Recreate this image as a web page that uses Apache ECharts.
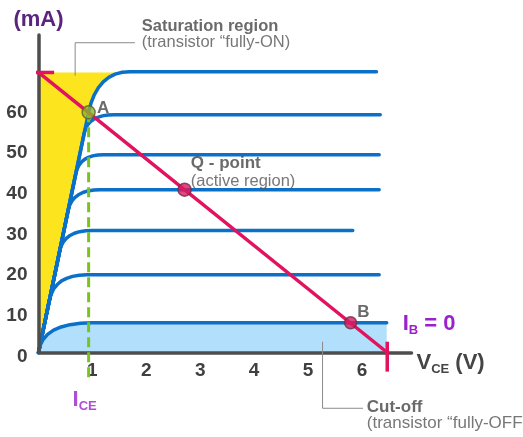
<!DOCTYPE html>
<html><head><meta charset="utf-8">
<script src="https://cdn.jsdelivr.net/npm/echarts@6/dist/echarts.min.js"></script>
<style>html,body{margin:0;padding:0;background:#fff}#c{width:523px;height:437px}</style>
</head><body><div id="c"></div>
<script>
// ===== data (V_CE in volts, I_C in mA) =====
const xTickLabels = [1, 2, 3, 4, 5, 6];
const yTickLabels = [0, 10, 20, 30, 40, 50, 60];

const curveIb0 = [[0,0],[0.029,1.7],[0.085,3.2],[0.169,4.45],[0.28,5.5],[0.419,6.27],[0.585,6.84],[0.779,7.19],[1.0,7.3],[6.46,7.3]];
const curve20  = [[0,0],[0.1,6.35],[0.205,13],[0.237,14.4],[0.285,15.7],[0.348,16.7],[0.427,17.6],[0.522,18.2],[0.632,18.7],[0.758,19.0],[0.9,19.1],[6.32,19.1]];
const curve30  = [[0,0],[0.2,12.7],[0.394,25],[0.42,26.17],[0.461,27.19],[0.516,28.05],[0.585,28.75],[0.667,29.3],[0.764,29.69],[0.875,29.92],[1.0,30],[5.83,30]];
const curve40  = [[0,0],[0.2,12.7],[0.4,25.4],[0.551,35],[0.578,36.17],[0.618,37.19],[0.672,38.05],[0.74,38.75],[0.822,39.3],[0.918,39.69],[1.027,39.92],[1.15,40],[6.32,40]];
const curve48  = [[0,0],[0.2,12.7],[0.4,25.4],[0.6,38.1],[0.693,44],[0.717,45.08],[0.752,46.01],[0.798,46.81],[0.856,47.45],[0.925,47.95],[1.005,48.31],[1.097,48.53],[1.2,48.6],[6.32,48.6]];
const curve58  = [[0,0],[0.2,12.7],[0.4,25.4],[0.6,38.1],[0.85,54],[0.874,55.03],[0.911,55.93],[0.96,56.68],[1.023,57.3],[1.098,57.78],[1.186,58.13],[1.287,58.33],[1.4,58.4],[6.34,58.4]];
const curveTop = [[0,0],[0.2,12.7],[0.4,25.4],[0.6,38.1],[0.85,54],[0.93,59],[0.976,61.34],[1.037,63.38],[1.112,65.09],[1.201,66.5],[1.304,67.6],[1.422,68.38],[1.554,68.84],[1.7,69],[6.27,69]];

const saturationRegion = [[0,68.8],[0,0],[0.93,59],[0.976,61.34],[1.037,63.38],[1.112,65.09],[1.201,66.5],[1.304,67.6],[1.422,68.38],[1.5,68.8]];

const loadLine = [[0,68.8],[6.47,0]];
const loadTickTop = [[-0.27,68.8],[0.29,68.8]];
const loadTickBottom = [[6.47,2.65],[6.47,-4.7]];
const vceSatLine = [[0.93,59],[0.93,-7]];

const pointA = [0.93, 59];
const pointQ = [2.71, 40];
const pointB = [5.79, 7.3];

// annotation leaders / anchors (data coordinates)
const satLeader = [[0.68,68],[0.68,76.1],[1.79,76.1]];
const satAnchor = [1.915, 78.1];
const cutLeader = [[5.27,2.65],[5.27,-13.7],[6.02,-13.7]];
const cutAnchor = [6.09, -15.5];

// ===== styles =====
const FONT = "'Liberation Sans', Arial, Helvetica, sans-serif";
const BLUE = '#0a70c8', RED = '#e2125e', PURPLE = '#9a21cc', GRAY = '#454545';
const subRich = (color) => ({
  i: { fontSize: 22, fontWeight: 'bold', color, fontFamily: FONT, verticalAlign: 'top', lineHeight: 24 },
  s: { fontSize: 13, fontWeight: 'bold', color, fontFamily: FONT, verticalAlign: 'bottom', lineHeight: 14, padding: [14, 0, 0, 0] }
});

function curveSeries(name, data, extra) {
  return Object.assign({
    name, type: 'line', data, symbol: 'none', smooth: false,
    lineStyle: { color: BLUE, width: 3.5, join: 'round', cap: 'round' }, z: 3, silent: true
  }, extra || {});
}

const chart = echarts.init(document.getElementById('c'), null, { renderer: 'canvas' });
chart.setOption({
  animation: false,
  textStyle: { fontFamily: FONT },
  grid: { left: 38.5, top: 35, width: 373, height: 317.5 },
  xAxis: {
    type: 'value', min: 0, max: 6.92, interval: 1, z: 4,
    axisLine: { lineStyle: { color: '#4d4d4d', width: 3.5 } },
    axisTick: { show: false }, splitLine: { show: false },
    axisLabel: { margin: 9, fontSize: 19, fontWeight: 'bold', color: '#404040', fontFamily: FONT,
      formatter: v => xTickLabels.includes(v) ? String(v) : '' },
    name: '{i|V}{s|CE}{i| (V)}', nameLocation: 'end', nameGap: 5,
    nameTextStyle: { padding: [22, 0, 0, 0], rich: subRich(GRAY) }
  },
  yAxis: {
    type: 'value', min: 0, max: 78, interval: 10, z: 4,
    axisLine: { lineStyle: { color: '#4d4d4d', width: 3.5 } },
    axisTick: { show: false }, splitLine: { show: false },
    axisLabel: { margin: 11, fontFamily: FONT,
      formatter: v => yTickLabels.includes(v) ? '{t|' + v + '}' : '',
      rich: { t: { fontSize: 19, fontWeight: 'bold', color: '#404040', fontFamily: FONT, lineHeight: 20, padding: [8, 0, 0, 0] } } },
    name: '(mA)', nameLocation: 'end', nameGap: 4,
    nameTextStyle: { fontSize: 22, fontWeight: 'bold', color: '#5b257f', fontFamily: FONT }
  },
  series: [
    {
      name: 'Saturation region', type: 'custom', z: 1, silent: true, clip: false,
      data: [[0, 0]],
      renderItem: (params, api) => ({
        type: 'polygon',
        shape: { points: saturationRegion.map(p => api.coord(p)) },
        style: { fill: '#fce51e' }
      })
    },
    curveSeries('IB = 0', curveIb0, {
      areaStyle: { color: '#b2dffb', opacity: 1, origin: 'start' },
      endLabel: { show: true, distance: 16, offset: [0, 2], formatter: '{i|I}{s|B}{i| = 0}', rich: subRich(PURPLE) }
    }),
    curveSeries('IB1', curve20),
    curveSeries('IB2', curve30),
    curveSeries('IB3', curve40),
    curveSeries('IB4', curve48),
    curveSeries('IB5', curve58),
    curveSeries('IB6', curveTop),
    {
      name: 'VCE(sat)', type: 'line', z: 5, clip: false, symbol: 'none', silent: true,
      lineStyle: { color: '#7ac31f', width: 3, type: [10, 5] },
      data: vceSatLine
    },
    {
      name: 'Load line', type: 'line', z: 6, clip: false, symbol: 'none', silent: true,
      lineStyle: { color: RED, width: 3.5 }, data: loadLine
    },
    {
      name: 'Load tick top', type: 'line', z: 6, clip: false, symbol: 'none', silent: true,
      lineStyle: { color: RED, width: 3.5 }, data: loadTickTop
    },
    {
      name: 'Load tick bottom', type: 'line', z: 6, clip: false, symbol: 'none', silent: true,
      lineStyle: { color: RED, width: 3.5 }, data: loadTickBottom
    },
    {
      name: 'Saturation leader', type: 'line', z: 2, clip: false, symbol: 'none', silent: true,
      lineStyle: { color: '#8a8a8a', width: 1 }, data: satLeader
    },
    {
      name: 'Cut-off leader', type: 'line', z: 4, clip: false, symbol: 'none', silent: true,
      lineStyle: { color: '#8a8a8a', width: 1 }, data: cutLeader
    },
    {
      name: 'Notes', type: 'scatter', z: 7, clip: false, symbolSize: 0, silent: true,
      data: [
        { value: satAnchor, label: { show: true, position: 'right', distance: 0,
          formatter: '{b|Saturation region}\n{n|(transistor “fully-ON)}',
          rich: {
            b: { fontSize: 16.5, fontWeight: 'bold', color: GRAY, fontFamily: FONT, lineHeight: 16 },
            n: { fontSize: 16.5, color: '#555', fontFamily: FONT, lineHeight: 16 }
          } } },
        { value: cutAnchor, label: { show: true, position: 'right', distance: 0,
          formatter: '{b|Cut-off}\n{n|(transistor “fully-OFF)}',
          rich: {
            b: { fontSize: 17, fontWeight: 'bold', color: GRAY, fontFamily: FONT, lineHeight: 16 },
            n: { fontSize: 17, color: '#555', fontFamily: FONT, lineHeight: 16 }
          } } },
        { value: vceSatLine[vceSatLine.length - 1], label: { show: true, position: 'bottom', distance: 8,
          offset: [-4, 0], formatter: '{i|I}{s|CE}', rich: subRich(PURPLE) } }
      ]
    },
    {
      name: 'Operating points', type: 'scatter', z: 8, clip: false, silent: true,
      data: [
        { value: pointA, symbolSize: 13, itemStyle: { color: '#8fb328', borderColor: '#55603a', borderWidth: 1.5 },
          label: { show: true, position: 'right', distance: 1, offset: [0, -4], formatter: 'A',
            fontSize: 17, fontWeight: 'bold', color: GRAY, fontFamily: FONT } },
        { value: pointQ, symbolSize: 13, itemStyle: { color: '#d81b60', borderColor: '#6a3048', borderWidth: 1.5 },
          label: { show: true, position: 'right', distance: 0, offset: [-1, -17.5],
            formatter: '{b|Q - point}\n{n|(active region)}',
            rich: {
              b: { fontSize: 17, fontWeight: 'bold', color: GRAY, fontFamily: FONT, lineHeight: 18 },
              n: { fontSize: 16.5, color: '#555', fontFamily: FONT, lineHeight: 18 }
            } } },
        { value: pointB, symbolSize: 12, itemStyle: { color: '#d81b60', borderColor: '#6a3048', borderWidth: 1.5 },
          label: { show: true, position: 'right', distance: 0, offset: [0, -10], formatter: 'B',
            fontSize: 17, fontWeight: 'bold', color: GRAY, fontFamily: FONT } }
      ]
    }
  ]
});
</script></body></html>
